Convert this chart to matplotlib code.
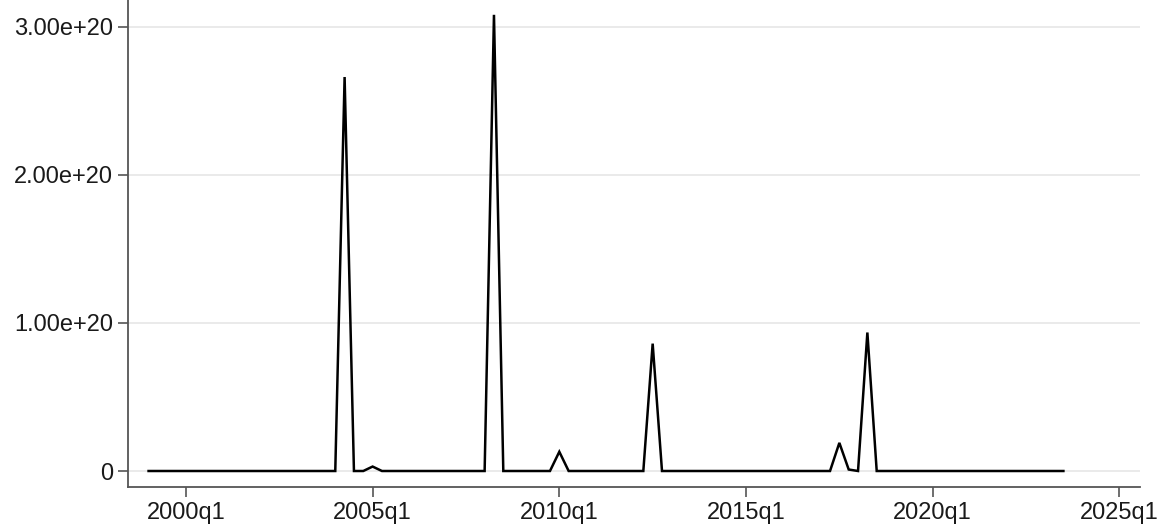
import numpy as np
import matplotlib
matplotlib.use("Agg")
from matplotlib import pyplot as plt
from matplotlib.ticker import FuncFormatter

# quarterly series, 1999q1 .. 2023q3, values in units of 1e20
start_year = 1999
values = [
    0, 0, 0, 0,          # 1999
    0, 0, 0, 0,          # 2000
    0, 0, 0, 0,          # 2001
    0, 0, 0, 0,          # 2002
    0, 0, 0, 0,          # 2003
    0, 2.66, 0, 0,       # 2004
    0.03, 0, 0, 0,       # 2005
    0, 0, 0, 0,          # 2006
    0, 0, 0, 0,          # 2007
    0, 3.08, 0, 0,       # 2008
    0, 0, 0, 0,          # 2009
    0.13, 0, 0, 0,       # 2010
    0, 0, 0, 0,          # 2011
    0, 0, 0.86, 0,       # 2012
    0, 0, 0, 0,          # 2013
    0, 0, 0, 0,          # 2014
    0, 0, 0, 0,          # 2015
    0, 0, 0, 0,          # 2016
    0, 0, 0.19, 0.01,    # 2017
    0, 0.935, 0, 0,      # 2018
    0, 0, 0, 0,          # 2019
    0, 0, 0, 0,          # 2020
    0, 0, 0, 0,          # 2021
    0, 0, 0, 0,          # 2022
    0, 0, 0,             # 2023
]
tick_labels = ["2000q1", "2005q1", "2010q1", "2015q1", "2020q1", "2025q1"]
y_ticks = [0, 1e20, 2e20, 3e20]

plt.rcParams['font.family'] = ['Liberation Sans', 'DejaVu Sans']

y = np.array(values) * 1e20
x = np.arange(len(y))
tick_pos = [(int(t[:4]) - start_year) * 4 for t in tick_labels]

fig = plt.figure(figsize=(11.65, 5.29), dpi=100)
ax = fig.add_axes([0.1099, 0.0794, 0.8686, 0.9206])

ax.plot(x, y, color='black', lw=1.8, solid_joinstyle='miter')

ax.set_xlim(-2.2, 106.2)
ax.set_ylim(-0.108e20, 3.18e20)
ax.set_xticks(tick_pos)
ax.set_xticklabels(tick_labels)
ax.set_yticks(y_ticks)
ax.yaxis.set_major_formatter(FuncFormatter(lambda v, p: "0" if v == 0 else "%.2fe+%d" % (v / 1e20, 20)))

ax.grid(axis='y', color='#e6e6e6', lw=1.2)
ax.set_axisbelow(True)
for s in ['top', 'right']:
    ax.spines[s].set_visible(False)
for s in ['left', 'bottom']:
    ax.spines[s].set_color('#555555')
    ax.spines[s].set_linewidth(1.3)
ax.tick_params(axis='both', colors='#555555', length=7, width=1.2, labelsize=17,
               labelcolor='#1a1a1a', pad=4)

fig.savefig("out.png", dpi=100, facecolor='white')
